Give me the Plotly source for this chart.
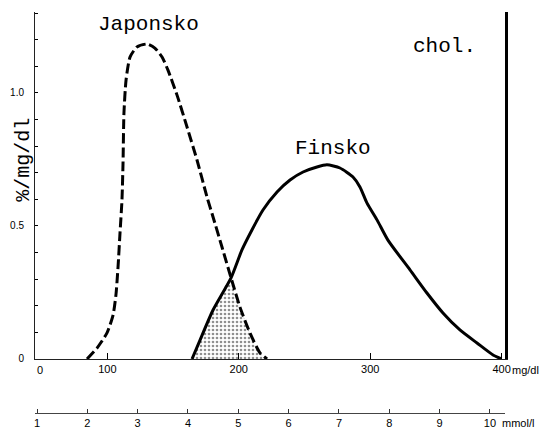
import plotly.graph_objects as go

# Japonsko (dashed) — x in mg/dl, y in %/mg/dl
jap_x = [84.5, 92.1, 99.7, 104.3, 106.5, 108.1, 109.6, 111.1, 111.9, 112.6, 114.2, 117.2,
         122.5, 130.1, 136.1, 141.6, 146.1, 153.0, 160.6, 168.2, 175.8, 180.4, 187.2,
         194.1, 200.9, 208.5, 216.1, 221.5]
jap_y = [0.0, 0.041, 0.098, 0.165, 0.241, 0.346, 0.474, 0.598, 0.737, 0.925, 1.049, 1.135,
         1.173, 1.184, 1.169, 1.135, 1.086, 0.992, 0.872, 0.748, 0.609, 0.534, 0.421,
         0.305, 0.195, 0.098, 0.023, 0.0]

# Finsko (solid)
fin_x = [164.4, 170.5, 180.4, 194.1, 202.4, 210.0, 218.4, 229.1, 239.0, 248.9, 259.5, 267.1,
         277.0, 286.9, 292.2, 297.6, 305.2, 313.5, 330.3, 343.2, 355.4, 368.3, 381.3,
         393.5, 400.0]
fin_y = [0.0, 0.071, 0.184, 0.305, 0.410, 0.485, 0.560, 0.628, 0.673, 0.703, 0.722, 0.730,
         0.718, 0.684, 0.647, 0.586, 0.523, 0.447, 0.335, 0.248, 0.173, 0.109, 0.060,
         0.015, 0.0]

mg_ticks = [100, 200, 300, 400]
mmol_ticks = [1, 2, 3, 4, 5, 6, 7, 8, 9, 10]
y_ticks = [0, 0.5, 1.0]
y_ticktext = ["0", "0.5", "1.0"]

# overlap region: Finsko up to the crossing, then Japonsko after it
cross = 194.1
ov_x = [x for x in fin_x if x <= cross] + [x for x in jap_x if x > cross]
ov_y = ([y for x, y in zip(fin_x, fin_y) if x <= cross] +
        [y for x, y in zip(jap_x, jap_y) if x > cross])

mono = "Courier New, Liberation Mono, monospace"
sans = "Liberation Sans, Arial, sans-serif"

fig = go.Figure()
fig.add_trace(go.Scatter(
    x=ov_x, y=ov_y, mode="lines", line=dict(width=0, shape="spline", smoothing=0.6),
    fill="tozeroy", fillcolor="rgba(0,0,0,0)",
    fillpattern=dict(shape=".", fgcolor="#222", bgcolor="white", size=4, solidity=0.35),
    hoverinfo="skip", showlegend=False))
fig.add_trace(go.Scatter(
    x=jap_x, y=jap_y, mode="lines",
    line=dict(color="black", width=3, dash="10px,4px", shape="spline", smoothing=0.6),
    showlegend=False))
fig.add_trace(go.Scatter(
    x=fin_x, y=fin_y, mode="lines",
    line=dict(color="black", width=3, shape="spline", smoothing=0.6),
    showlegend=False))
# invisible traces to activate the secondary axes
fig.add_trace(go.Scatter(x=mmol_ticks, y=[0] * len(mmol_ticks), xaxis="x2", yaxis="y",
                         mode="markers", marker=dict(opacity=0), hoverinfo="skip",
                         showlegend=False))
fig.add_trace(go.Scatter(x=mg_ticks, y=[0] * len(mg_ticks), xaxis="x", yaxis="y2",
                         mode="markers", marker=dict(opacity=0), hoverinfo="skip",
                         showlegend=False))

yr = [0, 1.3045]
ydom = [0.1347, 1]

fig.update_layout(
    width=543, height=430,
    margin=dict(l=35, r=38, t=12, b=17),
    paper_bgcolor="white", plot_bgcolor="white",
    showlegend=False,
    xaxis=dict(range=[44.9, 402.6], tickvals=mg_ticks, ticks="inside", ticklen=6,
               tickcolor="black", showline=True, linecolor="#222", linewidth=1,
               showgrid=False, zeroline=False, anchor="y", automargin=False,
               tickfont=dict(family=sans, size=11, color="black")),
    xaxis2=dict(range=[0.96, 10.30], tickvals=mmol_ticks, overlaying="x", anchor="free",
                position=0, side="bottom", ticks="inside", ticklen=4, tickcolor="#333",
                showline=True, linecolor="#444", linewidth=1, showgrid=False,
                zeroline=False, automargin=False,
                tickfont=dict(family=sans, size=11, color="black")),
    yaxis=dict(range=yr, domain=ydom, tickvals=y_ticks, ticktext=y_ticktext,
               ticks="inside", ticklen=3, tickcolor="black",
               minor=dict(dtick=0.1, ticks="inside", ticklen=3, tickcolor="black"),
               showline=True, linecolor="#222", linewidth=1, showgrid=False,
               zeroline=False, ticklabelstandoff=8, automargin=False,
               tickfont=dict(family=sans, size=10, color="black")),
    yaxis2=dict(range=yr, domain=ydom, overlaying="y", side="right", anchor="x",
                showline=True, linecolor="black", linewidth=2.5, showticklabels=False,
                ticks="", showgrid=False, zeroline=False, automargin=False),
)

fig.add_annotation(text="Japonsko", x=130.9, y=1.256, xref="x", yref="y",
                   showarrow=False, font=dict(family=mono, size=21, color="black"))
fig.add_annotation(text="Finsko", x=271.7, y=0.793, xref="x", yref="y",
                   showarrow=False, font=dict(family=mono, size=21, color="black"))
fig.add_annotation(text="chol.", x=356.9, y=1.173, xref="x", yref="y",
                   showarrow=False, font=dict(family=mono, size=21, color="black"))
fig.add_annotation(text="%/mg/dl", x=-0.026, y=0.748, xref="paper", yref="y",
                   xanchor="center", yanchor="middle",
                   textangle=-90, showarrow=False,
                   font=dict(family=mono, size=20, color="black"))
fig.add_annotation(text="0", x=0, y=0, xref="paper", yref="y", yanchor="top",
                   yshift=-3, showarrow=False,
                   font=dict(family=sans, size=11, color="black"))
fig.add_annotation(text="mg/dl", x=1.0, y=0, xref="paper", yref="y", xanchor="left",
                   yanchor="top", yshift=-3, xshift=5, showarrow=False,
                   font=dict(family=sans, size=11, color="black"))
fig.add_annotation(text="mmol/l", x=0.987, y=0, xref="paper", yref="paper",
                   xanchor="left", yanchor="top", yshift=-2, xshift=1, showarrow=False,
                   font=dict(family=sans, size=11, color="black"))

fig.write_html("out.html", config={"displayModeBar": False},
               post_script="document.body.style.margin='0';document.body.style.padding='0';")
